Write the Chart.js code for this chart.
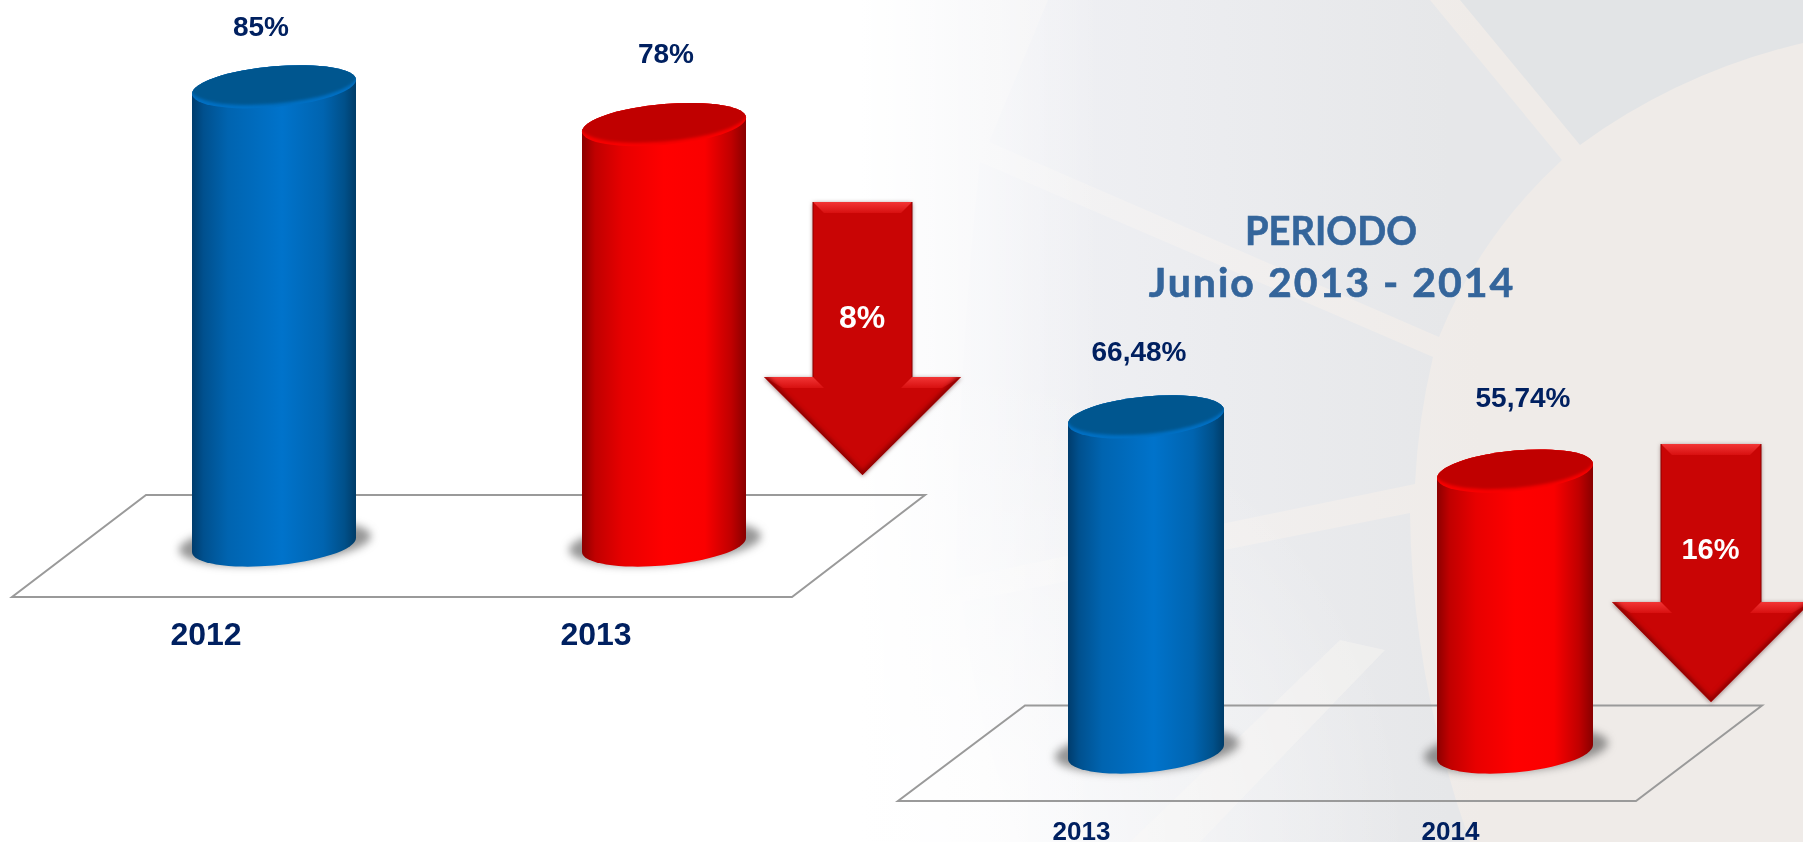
<!DOCTYPE html>
<html>
<head>
<meta charset="utf-8">
<title>Periodo</title>
<script src="https://cdn.jsdelivr.net/npm/chart.js@4"></script>
<style>
  html, body { margin: 0; padding: 0; background: #fff; overflow: hidden; }
  #bg, canvas { position: absolute; left: 0; top: 0; }
</style>
</head>
<body>
<!-- slide background, decoration only -->
<svg id="bg" width="1803" height="842" viewBox="0 0 1803 842">
  <defs>
    <linearGradient id="fade" x1="0" x2="1" y1="0" y2="0">
      <stop offset="0" stop-color="#fff" stop-opacity="1"/>
      <stop offset="1" stop-color="#fff" stop-opacity="0"/>
    </linearGradient>
    <radialGradient id="fadeCorner" gradientUnits="userSpaceOnUse" cx="930" cy="842" r="480">
      <stop offset="0" stop-color="#fff" stop-opacity="0.85"/>
      <stop offset="1" stop-color="#fff" stop-opacity="0"/>
    </radialGradient>
    <linearGradient id="base" gradientUnits="userSpaceOnUse" x1="900" x2="1480" y1="0" y2="0">
      <stop offset="0" stop-color="#f4f5f8"/>
      <stop offset="1" stop-color="#efebe8"/>
    </linearGradient>
    <linearGradient id="panel" gradientUnits="userSpaceOnUse" x1="950" x2="1450" y1="0" y2="0">
      <stop offset="0" stop-color="#f1f2f6"/>
      <stop offset="1" stop-color="#e6e7e9"/>
    </linearGradient>
  </defs>
  <rect x="860" width="943" height="842" fill="url(#base)"/>
  <path d="M1048 0 L989 142 L1439 337 Q1480 235 1562 160 L1430 0 Z" fill="url(#panel)"/>
  <path d="M1460 0 L1580 145 Q1680 72 1803 43 L1803 0 Z" fill="#e2e4e6"/>
  <path d="M980 162 L1433 357 Q1418 420 1415 484 L956 579 Q958 360 980 162 Z" fill="url(#panel)"/>
  <path d="M962 602 L1410 513 Q1412 680 1470 842 L1020 842 Q975 720 962 602 Z" fill="url(#panel)"/>
  <path d="M1340 640 L1385 650 L1200 842 L1130 842 Z" fill="#f2f1f0" opacity="0.7"/>
  <rect x="860" y="300" width="600" height="542" fill="url(#fadeCorner)"/>
  <rect x="860" width="240" height="842" fill="url(#fade)"/>
</svg>
<canvas id="chartLeft" width="1803" height="842"></canvas>
<canvas id="chartRight" width="1803" height="842"></canvas>
<script>
// valores
const leftYears = ["2012", "2013"];
const leftValues = [85, 78];
const leftLabels = ["85%", "78%"];
const leftDrop = "8%";

const rightYears = ["2013", "2014"];
const rightValues = [66.48, 55.74];
const rightLabels = ["66,48%", "55,74%"];
const rightDrop = "16%";

const titleLines = ["PERIODO", "Junio 2013 - 2014"];

const navy = "#002060";
const blueStops = [[0, "#003c6c"], [0.07, "#00508e"], [0.22, "#0064b0"], [0.55, "#0073cb"], [0.8, "#0064b0"], [0.93, "#00508a"], [1, "#003c68"]];
const redStops = [[0, "#8c0000"], [0.08, "#c00000"], [0.25, "#e80000"], [0.5, "#ff0000"], [0.75, "#fa0000"], [0.91, "#c00000"], [1, "#880000"]];

const tilt = 7;      // caida del borde de la elipse
const capH = 20.5;   // semieje vertical de la elipse

const ellipsePath = (ctx, cx, cy, w, h) => {
    ctx.save();
    ctx.transform(1, -tilt / w, 0, 1, cx, cy);
    ctx.beginPath();
    ctx.ellipse(0, 0, w, h, 0, 0, Math.PI * 2);
    ctx.restore();
};

const drawCylinder = (ctx, bar, stops, faceColor, rimColor) => {
    const w = bar.width / 2;
    const cx = bar.x, top = bar.y, base = bar.base;
    const s = tilt / w;

    // sombra en el piso
    ctx.save();
    ctx.filter = "blur(4px)";
    ctx.fillStyle = "rgba(85,85,85,0.62)";
    ellipsePath(ctx, cx + 1, base - 2, w + 14, capH + 1);
    ctx.fill();
    ctx.restore();

    const grad = ctx.createLinearGradient(cx - w, 0, cx + w, 0);
    stops.forEach(st => grad.addColorStop(st[0], st[1]));

    ctx.save();
    ctx.fillStyle = grad;
    ctx.beginPath();
    ctx.moveTo(cx - w, top + tilt);
    ctx.save();
    ctx.transform(1, -s, 0, 1, cx, top);
    ctx.ellipse(0, 0, w, capH, 0, Math.PI, Math.PI * 2);
    ctx.restore();
    ctx.lineTo(cx + w, base - tilt);
    ctx.save();
    ctx.transform(1, -s, 0, 1, cx, base);
    ctx.ellipse(0, 0, w, capH, 0, 0, Math.PI);
    ctx.restore();
    ctx.closePath();
    ctx.fill();
    ctx.restore();

    // tapa superior
    ctx.save();
    ctx.fillStyle = rimColor;
    ellipsePath(ctx, cx, top, w, capH);
    ctx.fill();
    ellipsePath(ctx, cx, top, w, capH);
    ctx.clip();
    ctx.filter = "blur(1.5px)";
    ctx.fillStyle = faceColor;
    ellipsePath(ctx, cx, top - 4, w + 1, capH + 0.5);
    ctx.fill();
    ctx.restore();
};

const drawArrow = (ctx, a) => {
    const b = 11;
    const outline = () => {
        ctx.beginPath();
        ctx.moveTo(a.shaftL, a.top);
        ctx.lineTo(a.shaftR, a.top);
        ctx.lineTo(a.shaftR, a.shoulder);
        ctx.lineTo(a.headR, a.shoulder);
        ctx.lineTo(a.tipX, a.tipY);
        ctx.lineTo(a.headL, a.shoulder);
        ctx.lineTo(a.shaftL, a.shoulder);
        ctx.closePath();
    };
    ctx.save();
    ctx.shadowColor = "rgba(60,0,0,0.5)";
    ctx.shadowBlur = 4;
    ctx.shadowOffsetY = 1;
    ctx.fillStyle = "#c90505";
    outline();
    ctx.fill();
    ctx.restore();

    ctx.save();
    outline();
    ctx.clip();
    // biseles claros
    const light = (x0, y0, x1, y1, x2, y2, x3, y3) => {
        const g = ctx.createLinearGradient(0, y0, 0, y2);
        g.addColorStop(0, "#f23535");
        g.addColorStop(1, "#d81010");
        ctx.fillStyle = g;
        ctx.beginPath();
        ctx.moveTo(x0, y0);
        ctx.lineTo(x1, y1);
        ctx.lineTo(x2, y2);
        ctx.lineTo(x3, y3);
        ctx.closePath();
        ctx.fill();
    };
    light(a.shaftL, a.top, a.shaftR, a.top, a.shaftR - b, a.top + b, a.shaftL + b, a.top + b);
    light(a.headL, a.shoulder, a.shaftL, a.shoulder, a.shaftL + b, a.shoulder + b, a.headL + b * 1.7, a.shoulder + b);
    light(a.headR, a.shoulder, a.shaftR, a.shoulder, a.shaftR - b, a.shoulder + b, a.headR - b * 1.7, a.shoulder + b);
    // borde oscuro de la punta
    ctx.filter = "blur(2px)";
    ctx.strokeStyle = "#8e0000";
    ctx.lineWidth = 6;
    ctx.beginPath();
    ctx.moveTo(a.headL, a.shoulder);
    ctx.lineTo(a.tipX, a.tipY);
    ctx.lineTo(a.headR, a.shoulder);
    ctx.stroke();
    ctx.restore();

    ctx.strokeStyle = "#8c0000";
    ctx.lineWidth = 1;
    ctx.beginPath();
    ctx.moveTo(a.shaftL, a.top);
    ctx.lineTo(a.shaftL, a.shoulder);
    ctx.moveTo(a.shaftR, a.top);
    ctx.lineTo(a.shaftR, a.shoulder);
    ctx.stroke();

    ctx.fillStyle = "#fff";
    ctx.font = "bold " + a.fontSize + "px 'Liberation Sans'";
    ctx.textAlign = "center";
    ctx.textBaseline = "middle";
    ctx.fillText(a.text, a.textX, a.textY);
};

const makeChart = (id, cfg) => {
    const cylinder = {
        id: "cylinder",
        beforeDatasetsDraw(chart) {
            const ctx = chart.ctx;
            const f = cfg.floor;
            ctx.save();
            ctx.strokeStyle = "#9a9a9a";
            ctx.lineWidth = 2;
            ctx.beginPath();
            f.forEach((p, i) => i ? ctx.lineTo(p[0], p[1]) : ctx.moveTo(p[0], p[1]));
            ctx.closePath();
            ctx.stroke();
            ctx.restore();
        },
        beforeDatasetDraw(chart) {
            const bars = chart.getDatasetMeta(0).data;
            drawCylinder(chart.ctx, bars[0], blueStops, "#00568f", "#0070c4");
            drawCylinder(chart.ctx, bars[1], redStops, "#c00000", "#f80000");
            return false;
        },
        afterDatasetsDraw(chart) {
            const ctx = chart.ctx;
            const bars = chart.getDatasetMeta(0).data;
            ctx.save();
            ctx.fillStyle = navy;
            ctx.font = "bold 28px 'Liberation Sans'";
            ctx.textAlign = "center";
            ctx.textBaseline = "middle";
            bars.forEach((bar, i) => {
                ctx.fillText(cfg.labels[i], bar.x + cfg.labelShift[i][0], bar.y - cfg.labelShift[i][1]);
            });
            ctx.restore();
            ctx.save();
            drawArrow(ctx, cfg.arrow);
            ctx.restore();
            if (cfg.title) {
                ctx.save();
                ctx.fillStyle = "#34659b";
                ctx.strokeStyle = "#34659b";
                ctx.lineWidth = 0.6;
                ctx.font = "bold 41px Lato";
                ctx.textAlign = "center";
                ctx.textBaseline = "middle";
                ctx.fillText(cfg.title[0], 1331, 232, 172);
                ctx.strokeText(cfg.title[0], 1331, 232, 172);
                ctx.letterSpacing = "2px";
                ctx.fillText(cfg.title[1], 1332, 284);
                ctx.strokeText(cfg.title[1], 1332, 284);
                ctx.restore();
            }
        }
    };

    return new Chart(id, {
        type: "bar",
        data: {
            labels: cfg.years,
            datasets: [{ data: cfg.values, backgroundColor: ["#0070c0", "#ff0000"] }]
        },
        plugins: [cylinder],
        options: {
            responsive: false,
            animation: false,
            events: [],
            layout: { padding: cfg.padding },
            datasets: { bar: { barPercentage: 1, categoryPercentage: cfg.barShare } },
            plugins: { legend: { display: false }, tooltip: { enabled: false } },
            scales: {
                x: {
                    grid: { display: false, drawTicks: false },
                    border: { display: false },
                    ticks: {
                        color: navy,
                        font: { family: "Liberation Sans", weight: "bold", size: cfg.tickSize },
                        padding: cfg.tickPad,
                        labelOffset: cfg.tickShift,
                        autoSkip: false,
                        maxRotation: 0
                    },
                    afterFit: s => { s.height = cfg.axisHeight; }
                },
                y: { display: false, min: 0, max: 100 }
            }
        }
    });
};

makeChart("chartLeft", {
    years: leftYears,
    values: leftValues,
    labels: leftLabels,
    labelShift: [[-13, 58.5], [2, 69]],
    padding: { left: 79, right: 944, top: 6, bottom: 0 },
    barShare: 164 / 390,
    tickSize: 32,
    tickPad: 72,
    tickShift: -68,
    axisHeight: 297,
    floor: [[146, 495], [925, 495], [792, 597], [12, 597]],
    arrow: { shaftL: 813, shaftR: 912, top: 202, shoulder: 377, headL: 764, headR: 961, tipX: 862.5, tipY: 475,
             text: leftDrop, fontSize: 32, textX: 862, textY: 319 }
});

makeChart("chartRight", {
    years: rightYears,
    values: rightValues,
    labels: rightLabels,
    labelShift: [[-7, 64], [8, 71.5]],
    padding: { left: 961.5, right: 103.5, top: 248, bottom: 0 },
    barShare: 156 / 369,
    tickSize: 26,
    tickPad: 65,
    tickShift: -64.5,
    axisHeight: 90,
    floor: [[1025, 705.5], [1762, 705.5], [1636, 801], [898, 801]],
    arrow: { shaftL: 1661, shaftR: 1761, top: 444, shoulder: 602, headL: 1612, headR: 1811, tipX: 1711, tipY: 702,
             text: rightDrop, fontSize: 29, textX: 1710.5, textY: 551 },
    title: titleLines
});
</script>
</body>
</html>
